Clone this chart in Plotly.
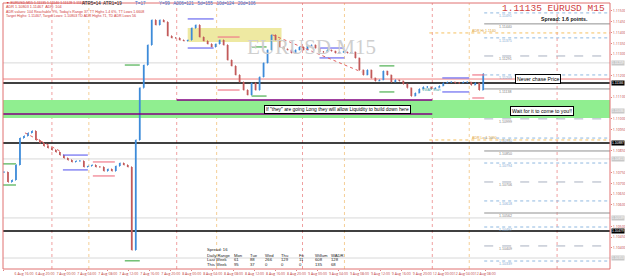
import plotly.graph_objects as go

# ---------------- data ----------------
closes = [1.10752, 1.10706, 1.10715, 1.10785, 1.10910, 1.10920, 1.10934, 1.10943, 1.10901, 1.10887,
          1.10873, 1.10864, 1.10855, 1.10845, 1.10831, 1.10817, 1.10808, 1.10799, 1.10804, 1.10804,
          1.10776, 1.10780, 1.10785, 1.10776, 1.10776, 1.10757, 1.10766, 1.10757, 1.10780, 1.10794,
          1.10785, 1.10776, 1.10390, 1.10901, 1.11143, 1.11249, 1.11342, 1.11458, 1.11435, 1.11458,
          1.11449, 1.11384, 1.11375, 1.11375, 1.11365, 1.11361, 1.11365, 1.11421, 1.11435, 1.11379,
          1.11361, 1.11347, 1.11333, 1.11347, 1.11365, 1.11342, 1.11272, 1.11245, 1.11203, 1.11170,
          1.11133, 1.11110, 1.11166, 1.11133, 1.11194, 1.11259, 1.11319, 1.11389, 1.11365, 1.11333,
          1.11324, 1.11319, 1.11305, 1.11319, 1.11333, 1.11319, 1.11338, 1.11342, 1.11328, 1.11310,
          1.11310, 1.11319, 1.11314, 1.11305, 1.11310, 1.11310, 1.11305, 1.11310, 1.11282, 1.11226,
          1.11203, 1.11226, 1.11189, 1.11175, 1.11180, 1.11221, 1.11203, 1.11170, 1.11180, 1.11175,
          1.11161, 1.11143, 1.11105, 1.11119, 1.11138, 1.11147, 1.11147, 1.11138, 1.11143, 1.11152,
          1.11166, 1.11170, 1.11170, 1.11166, 1.11166, 1.11170, 1.11170, 1.11156, 1.11166, 1.11133,
          1.11208]

time_labels = ["6 Aug 2019", "6 Aug 16:00", "6 Aug 20:00", "7 Aug 00:00", "7 Aug 04:00", "7 Aug 08:00",
               "7 Aug 12:00", "7 Aug 16:00", "7 Aug 20:00", "8 Aug 00:00", "8 Aug 04:00", "8 Aug 08:00",
               "8 Aug 12:00", "8 Aug 16:00", "8 Aug 20:00", "9 Aug 00:00", "9 Aug 04:00", "9 Aug 08:00",
               "9 Aug 12:00", "9 Aug 16:00", "9 Aug 20:00", "12 Aug 00:00", "12 Aug 04:00", "12 Aug 08:00"]

day_breaks = [12, 43.25, 74.75, 107.25, 138.5]
session_breaks = [21.25, 53.25, 85.25, 116.5]

full_black_levels = [1.11166, 1.10887, 1.10479]
full_gray_levels = [1.11259, 1.10813, 1.10539, 1.10353]
pink_level = 1.11184
green_zone = [1.11003, 1.11087]
purple_upper = 1.11087
purple_lower = 1.11022

right_blue_dotted = [1.11491, 1.11375, 1.11203, 1.10910, 1.10794, 1.10618, 1.10497, 1.10339]
right_gray_solid = [1.11440, 1.11138, 1.10850, 1.10562]
right_gray_dashed = [1.11291, 1.10999, 1.10706, 1.10409]
adr_levels = [1.11398, 1.10901]
adr_names = ["ADR Hi 1.1140", "ADR Lo 1.1090"]

# range boxes: (x0, x1, top, bottom, colour)
range_boxes = [
    (-0.25, 3.0, 1.10790, 1.10692, "#4caf50"),
    (14.75, 21.0, 1.10831, 1.10762, "#6a6af0"),
    (22.25, 27.75, 1.10799, 1.10734, "#f07a8a"),
    (46.0, 52.5, 1.11463, 1.11328, "#6a6af0"),
    (53.5, 59.0, 1.11379, 1.11133, "#f07a8a"),
    (62.0, 65.75, 1.11333, 1.11105, "#4caf50"),
    (79.0, 85.25, 1.11328, 1.11282, "#6a6af0"),
    (94.0, 97.75, 1.11245, 1.11124, "#4caf50"),
    (109.75, 116.5, 1.11189, 1.11124, "#6a6af0"),
    (117.25, 120.25, 1.11203, 1.11096, "#f07a8a"),
    (30.25, 34.0, 1.11249, 1.10340, "#4caf50"),
]
yellow_box = [46.0, 69.5, 1.11421, 1.11356]
trend_lines = [(5.25, 1.10934, 14.5, 1.10845), (67.25, 1.11389, 89.5, 1.11217)]

table_cols = ["Mon", "Tue", "Wed", "Thu", "Fri", "Willum", "WADR"]
last_week = ["61", "88", "266", "129", "11", "608", "128"]
this_week = ["95", "37", "0", "0", "0", "135", "68"]

# ---------------- figure ----------------
W, H = 625, 277
ML, MR, MT, MB = 3, 15, 3, 8
PW, PH = W - ML - MR, H - MT - MB


def ax(px):
    return (px - ML) / PW


def ay(py):
    return 1 - (py - MT) / PH


opens = [closes[0]] + closes[:-1]
highs = [max(o, c) for o, c in zip(opens, closes)]
lows = [min(o, c) for o, c in zip(opens, closes)]
xs = list(range(len(closes)))

fig = go.Figure()
fig.add_trace(go.Ohlc(
    x=xs, open=opens, high=highs, low=lows, close=closes,
    increasing=dict(line=dict(color="#3d8bd9", width=1.8)),
    decreasing=dict(line=dict(color="#c25a5a", width=1.8)),
    tickwidth=0.15, showlegend=False, hoverinfo="skip"))

XMIN, XMAX = -0.25, 151.75
shapes = []

shapes.append(dict(type="rect", xref="x", yref="y", x0=XMIN, x1=XMAX, y0=green_zone[0], y1=green_zone[1],
                   fillcolor="#90ee90", line=dict(width=0), layer="below"))
shapes.append(dict(type="rect", xref="x", yref="y", x0=yellow_box[0], x1=yellow_box[1], y0=yellow_box[3],
                   y1=yellow_box[2], fillcolor="#eee9a2", line=dict(width=0), layer="below"))
for d in day_breaks:
    shapes.append(dict(type="line", xref="x", yref="paper", x0=d, x1=d, y0=0, y1=1,
                       line=dict(color="#f0a0a0", width=1, dash="dot"), layer="below"))
for d in session_breaks:
    shapes.append(dict(type="line", xref="x", yref="paper", x0=d, x1=d, y0=0, y1=1,
                       line=dict(color="#f5cf96", width=1, dash="dot"), layer="below"))
for lv in full_gray_levels:
    shapes.append(dict(type="line", xref="x", yref="y", x0=XMIN, x1=XMAX, y0=lv, y1=lv,
                       line=dict(color="#d8d8d8", width=1), layer="below"))
for lv in full_black_levels:
    shapes.append(dict(type="line", xref="x", yref="y", x0=XMIN, x1=XMAX, y0=lv, y1=lv,
                       line=dict(color="#000000", width=1.5), layer="below"))
shapes.append(dict(type="line", xref="x", yref="y", x0=XMIN, x1=XMAX, y0=pink_level, y1=pink_level,
                   line=dict(color="#f08080", width=1), layer="below"))
shapes.append(dict(type="line", xref="x", yref="y", x0=43.25, x1=107.25, y0=purple_upper, y1=purple_upper,
                   line=dict(color="#800080", width=1.5)))
shapes.append(dict(type="line", xref="x", yref="y", x0=XMIN, x1=107.25, y0=purple_lower, y1=purple_lower,
                   line=dict(color="#800080", width=1.5)))
RX0 = 120.25
for lv in right_blue_dotted:
    shapes.append(dict(type="line", xref="x", yref="y", x0=RX0, x1=XMAX, y0=lv, y1=lv,
                       line=dict(color="#8fb8e0", width=1, dash="dot"), layer="below"))
for lv in right_gray_solid:
    shapes.append(dict(type="line", xref="x", yref="y", x0=RX0, x1=XMAX, y0=lv, y1=lv,
                       line=dict(color="#909090", width=1), layer="below"))
for lv in right_gray_dashed:
    shapes.append(dict(type="line", xref="x", yref="y", x0=RX0, x1=XMAX, y0=lv, y1=lv,
                       line=dict(color="#a8b0c0", width=1, dash="dash"), layer="below"))
for lv in adr_levels:
    shapes.append(dict(type="line", xref="x", yref="y", x0=106.5, x1=XMAX, y0=lv, y1=lv,
                       line=dict(color="#f5c060", width=1, dash="dot"), layer="below"))
for x0, x1, t, b, c in range_boxes:
    for lv in (t, b):
        shapes.append(dict(type="line", xref="x", yref="y", x0=x0, x1=x1, y0=lv, y1=lv,
                           line=dict(color=c, width=1.2)))
for x0, y0, x1, y1 in trend_lines:
    shapes.append(dict(type="line", xref="x", yref="y", x0=x0, x1=x1, y0=y0, y1=y1,
                       line=dict(color="#e06060", width=1, dash="dot")))
shapes.append(dict(type="rect", xref="paper", yref="paper", x0=0, x1=1, y0=0, y1=1,
                   line=dict(color="#e07070", width=1)))

ann = []
RED = "#d03838"


def txt(px, py, s, size=4.5, color=RED, xanchor="left", **kw):
    d = dict(xref="paper", yref="paper", x=ax(px), y=ay(py), text=s, showarrow=False,
             xanchor=xanchor, yanchor="middle", font=dict(size=size, color=color, family="Arial"))
    d.update(kw)
    ann.append(d)


txt(4, 3.5, "▼ EURUSD,M15 1.11135 1.11140 1.11128 1.11135", size=3.5)
txt(4, 7.5, "ADR 1.10803 1.11467  ADR: 104", size=3.8)
txt(4, 11.8, "ADR values: 104 Reachable 9%, Today's Range 37, TT Highs 1.4 6%, TT Lows 1.6608", size=3.6)
txt(4, 16, "Target Highs: 1.11467, Target Lows: 1.10803 TD ADR Highs 71, TD ADR Lows 56", size=3.6)
txt(80, 3.5, "ATR5=14  ATR1=19", size=4.5, color="#202020")
txt(133, 3.5, "T=17", size=4.5, color="#3a70d0")
txt(157, 3.5, "Y=99   A006=121   5d=155   10d=124   20d=106", size=4.5, color="#3a70d0")

txt(607, 8, "1.11135 EURUSD M15", size=9.5, color="#d04040", xanchor="right")
ann[-1]["font"]["family"] = "Liberation Mono"
txt(590, 18.5, "<b>Spread: 1.6 points.</b>", size=5.2, color="#101010", xanchor="right")

txt(311, 47, "EURUSD M15", size=21, color="#cfcfcf", xanchor="center")
ann[-1]["font"]["family"] = "Liberation Serif"

box = dict(bordercolor="#000000", borderwidth=1, bgcolor="#ffffff", borderpad=1)
txt(538, 79, "Never chase Price", size=5.2, color="#000000", xanchor="center", **box)
txt(337, 109.5, 'If "they" are going Long they will allow Liquidity to build down here', size=4.9,
    color="#000000", xanchor="center", **box)
txt(542, 111, "Wait for it to come to you!!", size=5.2, color="#000000", xanchor="center", **box)
txt(431, 90, "VWAP Start", size=3.5, color="#40a0a0", xanchor="center")

for lv in right_blue_dotted:
    ann.append(dict(xref="x", yref="y", x=123.5, y=lv, yshift=-3, text=f"{lv:.5f}", showarrow=False,
                    xanchor="left", font=dict(size=3.6, color="#7fa8d0", family="Arial")))
for lv in right_gray_solid + right_gray_dashed:
    ann.append(dict(xref="x", yref="y", x=123.5, y=lv, yshift=-3, text=f"{lv:.5f}", showarrow=False,
                    xanchor="left", font=dict(size=3.6, color="#808080", family="Arial")))
for lv, nm in zip(adr_levels, adr_names):
    ann.append(dict(xref="x", yref="y", x=116.8, y=lv, yshift=2, text=nm, showarrow=False,
                    xanchor="left", font=dict(size=3.6, color="#e0a030", family="Arial")))

box_levels_black = full_black_levels
box_levels_gray = full_gray_levels + [1.11036]
for lv in box_levels_black:
    ann.append(dict(xref="paper", yref="y", x=1.001, y=lv, text=f"{lv:.5f}", showarrow=False,
                    xanchor="left", bgcolor="#000000", borderpad=0,
                    font=dict(size=3.3, color="#ffffff", family="Arial")))
for lv in box_levels_gray:
    ann.append(dict(xref="paper", yref="y", x=1.001, y=lv, text=f"{lv:.5f}", showarrow=False,
                    xanchor="left", bgcolor="#c8c8c8", borderpad=0,
                    font=dict(size=3.3, color="#ffffff", family="Arial")))

txt(205, 249, "Spread: 16", size=4.2, color="#202020")
col_x = [232, 248, 263, 279, 297, 313, 329]
txt(205, 255, "Daily Range", size=4.2, color="#202020")
txt(205, 259.5, "Last Week", size=4.2, color="#202020")
txt(205, 264, "This Week", size=4.2, color="#202020")
for cx, h, a, b in zip(col_x, table_cols, last_week, this_week):
    txt(cx, 255, h, size=4.2, color="#202020")
    txt(cx, 259.5, a, size=4.2, color="#202020")
    txt(cx, 264, b, size=4.2, color="#202020")

tick_pos = [-0.25 + 5.25 * j for j in range(len(time_labels))]
all_levels_boxed = box_levels_black + box_levels_gray
yticks = [round(1.1030 + 0.0005 * k, 4) for k in range(25)]
yticks = [t for t in yticks if all(abs(t - b) > 0.00018 for b in all_levels_boxed)]

fig.update_layout(
    width=W, height=H, margin=dict(l=ML, r=MR, t=MT, b=MB, autoexpand=False),
    paper_bgcolor="#ffffff", plot_bgcolor="#ffffff",
    shapes=shapes, annotations=ann, showlegend=False,
    xaxis=dict(range=[XMIN, XMAX], rangeslider=dict(visible=False), showgrid=False, zeroline=False,
               tickvals=tick_pos, ticktext=time_labels, tickfont=dict(size=3.5, color="#c04040"),
               tickangle=0, automargin=False,
               ticks="outside", ticklen=1, tickcolor="#e08080", showline=False),
    yaxis=dict(range=[1.10302, 1.11537], side="right", showgrid=False, zeroline=False,
               tickvals=yticks, tickformat=".5f", tickfont=dict(size=3.6, color="#c04040"),
               automargin=False,
               ticks="outside", ticklen=1, tickcolor="#e08080", showline=False),
)

fig.write_html("out.html")
